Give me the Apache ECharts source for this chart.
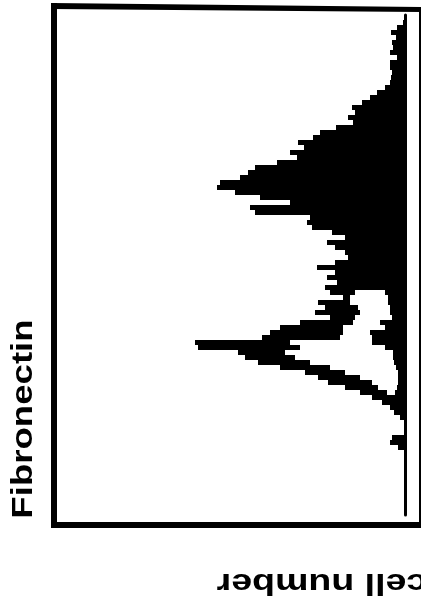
<!DOCTYPE html>
<html>
<head>
<meta charset="utf-8">
<script src="https://cdn.jsdelivr.net/npm/echarts@6/dist/echarts.min.js"></script>
<style>
html,body{margin:0;padding:0;background:#fff;}
#chart{width:421px;height:613px;}
</style>
</head>
<body>
<div id="chart"></div>
<script>
// Fluorescence channels (vertical category axis, top to bottom)
var channels = Array.from({length: 100}, function (_, i) { return String(i + 1); });

// Outer envelope of the black histogram (cell counts per channel)
var envelope = [0,2,8,14,9,13,12,15,8,15,
  15,13,14,15,20,28,35,43,53,50,
  57,52,69,85,92,107,101,115,108,128,
  150,157,165,185,188,170,145,115,155,150,
  95,98,93,73,60,78,70,60,57,70,
  88,70,78,68,80,75,62,87,80,90,
  75,105,125,135,143,210,207,167,160,147,
  125,100,87,77,60,45,33,23,15,11,
  5,0,0,0,13,15,7,0,0,0,
  0,0,0,0,0,0,0,0,0,0];

// Hollow (white) interior of the overlaid control histogram
var hollow = [0,0,0,0,0,0,0,0,0,0,
  0,0,0,0,0,0,0,0,0,0,
  0,0,0,0,0,0,0,0,0,0,
  0,0,0,0,0,0,0,0,0,0,
  0,0,0,0,0,0,0,0,0,0,
  0,0,0,0,0,50,55,55,47,45,
  50,52,62,62,65,115,105,120,110,95,
  75,60,45,33,27,18,0,0,0,0,
  0,0,0,0,0,0,0,0,0,0,
  0,0,0,0,0,0,0,0,0,0];

// Low-count tail next to the baseline
var tail = [0,0,0,0,0,0,0,0,0,0,
  0,0,0,0,0,0,0,0,0,0,
  0,0,0,0,0,0,0,0,0,0,
  0,0,0,0,0,0,0,0,0,0,
  0,0,0,0,0,0,0,0,0,0,
  0,0,0,0,0,20,17,17,15,15,
  13,25,20,35,33,33,20,12,12,11,
  9,7,7,7,8,10,0,0,0,0,
  0,0,0,0,0,0,0,0,0,0,
  0,0,0,0,0,0,0,0,0,0];

var xTitle = 'Fibronectin';
var yTitle = 'cell number';

var chart = echarts.init(document.getElementById('chart'), null, {renderer: 'canvas'});

function barSeries(name, data, color, z) {
  return {
    name: name, type: 'bar', data: data,
    barWidth: '100%', barGap: '-100%', barCategoryGap: '0%',
    itemStyle: {color: color}, z: z, silent: true
  };
}

var font = 'bold 30px "Liberation Sans", Arial, sans-serif';

chart.setOption({
  animation: false,
  backgroundColor: '#ffffff',
  grid: {left: 56, right: 16, top: 15, bottom: 98, containLabel: false},
  xAxis: {type: 'value', inverse: true, min: 0, max: 349, show: false},
  yAxis: {
    type: 'category', data: channels, inverse: true, position: 'right',
    axisLine: {show: true, lineStyle: {color: '#000', width: 3}},
    axisTick: {show: false}, axisLabel: {show: false}, splitLine: {show: false}
  },
  series: [
    barSeries('envelope', envelope, '#000000', 2),
    barSeries('hollow', hollow, '#ffffff', 3),
    barSeries('tail', tail, '#000000', 4)
  ],
  graphic: [
    {type: 'rect', shape: {x: 51, y: 3, width: 6, height: 525}, style: {fill: '#000'}},
    {type: 'polygon', shape: {points: [[51,3],[421,7],[421,12],[51,9]]}, style: {fill: '#000'}},
    {type: 'rect', shape: {x: 51, y: 522, width: 370, height: 6}, style: {fill: '#000'}},
    {type: 'rect', shape: {x: 419, y: 10, width: 2, height: 514}, style: {fill: '#000'}},
    {type: 'text', x: 24, y: 419, rotation: Math.PI / 2, scaleX: 1.22,
      style: {text: xTitle, font: font, fill: '#000', align: 'center', verticalAlign: 'middle'}},
    {type: 'text', x: 322, y: 582, rotation: Math.PI, scaleX: 1.25,
      style: {text: yTitle, font: font, fill: '#000', align: 'center', verticalAlign: 'middle'}}
  ]
});
</script>
</body>
</html>
